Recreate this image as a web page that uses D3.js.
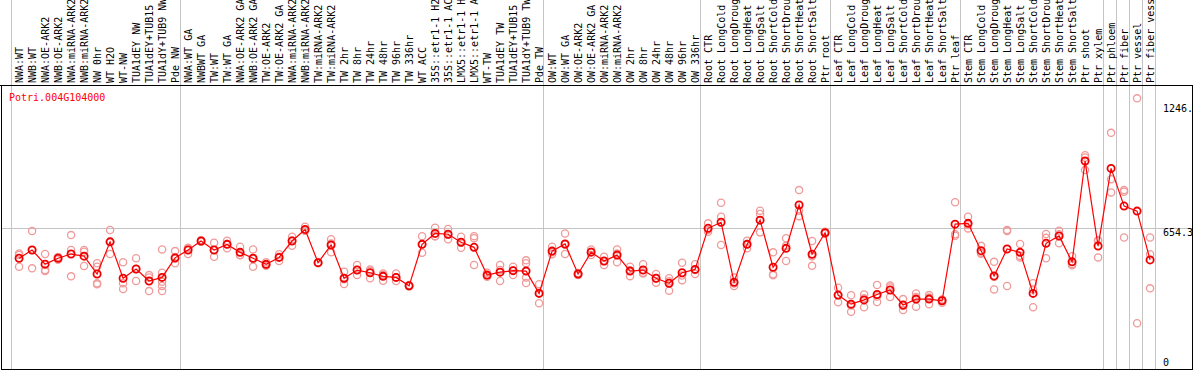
<!DOCTYPE html>
<html>
<head>
<meta charset="utf-8">
<script src="https://cdn.jsdelivr.net/npm/d3@7"></script>
<style>
html, body { margin: 0; padding: 0; background: #fff; }
svg { display: block; }
text { font-family: "DejaVu Sans Mono", "Liberation Mono", monospace; font-size: 10px; }
</style>
</head>
<body>
<svg id="chart" width="1194" height="370"></svg>
<script>
const gene = "Potri.004G104000";

const labels = [
  "NWA:WT","NWB:WT","NWA:OE-ARK2","NWB:OE-ARK2","NWA:miRNA-ARK2","NWB:miRNA-ARK2","NW 0hr","WT H2O","WT-NW","TUA1dEY NW","TUA1dEY+TUB15 NW","TUA1dY+TUB9 NW","Pde NW",
  "NWA:WT GA","NWBWT GA","TW:WT","TW:WT GA","NWA:OE-ARK2 GA","NWB:OE-ARK2 GA","TW:OE-ARK2","TW:OE-ARK2 GA","NWA:miRNA-ARK2 GA","NWB:miRNA-ARK2 GA","TW:miRNA-ARK2","TW:miRNA-ARK2 GA","TW 2hr","TW 8hr","TW 24hr","TW 48hr","TW 96hr","TW 336hr","WT ACC","35S::etr1-1 H2O","35S::etr1-1 ACC","LMX5::etr1-1 H2O","LMX5::etr1-1 ACC","WT-TW","TUA1dEY TW","TUA1dEY+TUB15 TW","TUA1dY+TUB9 TW","Pde TW",
  "OW:WT","OW:WT GA","OW:OE-ARK2","OW:OE-ARK2 GA","OW:miRNA-ARK2","OW:miRNA-ARK2 GA","OW 2hr","OW 8hr","OW 24hr","OW 48hr","OW 96hr","OW 336hr",
  "Root CTR","Root LongCold","Root LongDrought","Root LongHeat","Root LongSalt","Root ShortCold","Root ShortDrought","Root ShortHeat","Root ShortSalt","Ptr root",
  "Leaf CTR","Leaf LongCold","Leaf LongDrought","Leaf LongHeat","Leaf LongSalt","Leaf ShortCold","Leaf ShortDrought","Leaf ShortHeat","Leaf ShortSalt","Ptr leaf",
  "Stem CTR","Stem LongCold","Stem LongDrought","Stem LongHeat","Stem LongSalt","Stem ShortCold","Stem ShortDrought","Stem ShortHeat","Stem ShortSalt","Ptr shoot","Ptr xylem",
  "Ptr phloem","Ptr fiber","Ptr vessel","Ptr fiber vessel"
];

const groupSizes = [13, 28, 12, 10, 10, 11, 1, 1, 1, 1];

const means = [
  512, 551, 484, 512, 532, 522, 437, 590, 417, 461,
  404, 421, 514, 551, 594, 551, 578, 540, 512, 483,
  516, 594, 649, 491, 575, 417, 456, 443, 426, 421,
  381, 578, 630, 626, 588, 564, 432, 446, 453, 451,
  345, 546, 580, 437, 541, 499, 527, 451, 456, 417,
  393, 443, 459, 654.3, 683, 398, 578, 693, 469, 559,
  765, 531, 633, 337, 294, 314, 340, 361, 290, 318,
  318, 310, 674, 678, 548, 428, 556, 540, 345, 583,
  618, 495, 974, 570, 939, 760, 736, 504
];

const replicates = [
  [535,472,528],[641,464,551],[532,456,451],[505,512,518],[622,551,426],
  [551,543,475],[488,472,393,388],[646,590,532],[493,393,366],[512,404,461],
  [432,421,356],[554,443,400,380,356],[546,488,510],[559,532,562],[590,594,598],
  [586,519,551],[595,559,580],[567,527,526],[554,472,509],[493,476,480],
  [519,499,531],[614,571,596],[662,643,643],[488,492,492],[602,540,582],
  [448,390,412],[480,432,456],[459,417,453],[440,405,433],[440,404,420],
  [378,381,385],[617,538,578],[657,617,617],[651,602,624],[614,562,587],
  [617,607,480],[443,424,430],[480,404,456],[472,432,454],[502,488,394,420],
  [389,298,348],[567,531,541],[630,532,576],[432,437,442],[554,527,543],
  [519,480,498],[554,493,535],[472,427,454],[484,440,443],[437,396,417],
  [417,358,403],[491,408,430],[484,437,456],[678,638,647],[776,709,575],
  [421,380,392],[595,559,580],[738,722,635],[540,431,436],[607,499,571],
  [836,738,712],[594,476,522],[628,633,638],[372,303,337],[336,258,287],
  [340,279,322],[385,304,330],[382,328,373],[318,266,285],[345,282,328],
  [337,293,325],[314,301,316],[778,619,626],[709,654,670],[571,538,534],
  [495,364,423],[641,380,646],[580,516,524],[393,279,364],[627,512,609],
  [643,626,583],[522,484,479],[1002,991,931],[598,516,596],[1108,888,825],
  [836,828,611],[1272,203],[611,531,369]
];

const yTickValues = [1246, 654.3, 0];
const yTickLabels = ["1246.", "654.3", "0"];

const W = 1194, H = 370;
const plotTop = 85, plotBottom = 369, plotLeft = 1, plotRight = 1192;

const svg = d3.select("#chart");

const n = labels.length;
const x = d3.scaleLinear().domain([0, n]).range([10.5, 1154.5]);
const y = d3.scaleLinear().domain([0, 1246]).range([366, 103.8]);
const px = i => x(i + 0.66);

// clip for plot area
svg.append("defs").append("clipPath").attr("id", "plotclip")
  .append("rect").attr("x", plotLeft).attr("y", plotTop).attr("width", plotRight - plotLeft).attr("height", plotBottom - plotTop);

// group separators
const bounds = [0];
groupSizes.forEach(s => bounds.push(bounds[bounds.length - 1] + s));
svg.append("g").selectAll("line").data(bounds).join("line")
  .attr("x1", d => Math.round(x(d)) + 0.5).attr("x2", d => Math.round(x(d)) + 0.5)
  .attr("y1", 0).attr("y2", plotBottom)
  .attr("stroke", "#c4c4c4").attr("stroke-width", 1);

// horizontal reference line
svg.append("line")
  .attr("x1", plotLeft).attr("x2", plotRight)
  .attr("y1", Math.round(y(654.3)) + 0.5).attr("y2", Math.round(y(654.3)) + 0.5)
  .attr("stroke", "#c4c4c4").attr("stroke-width", 1);

// sample labels (rotated)
svg.append("g").selectAll("text").data(labels).join("text")
  .attr("transform", (d, i) => `translate(${x(i) + 12.3},83) rotate(-90)`)
  .attr("fill", "#000")
  .text(d => d);

// frame
const frame = svg.append("g").attr("stroke", "#000").attr("stroke-width", 1).attr("fill", "none");
frame.append("line").attr("x1", 0).attr("x2", plotRight + 1).attr("y1", plotTop + 0.5).attr("y2", plotTop + 0.5);
frame.append("line").attr("x1", plotLeft + 0.5).attr("x2", plotLeft + 0.5).attr("y1", plotTop).attr("y2", plotBottom + 1);
frame.append("line").attr("x1", plotRight + 0.5).attr("x2", plotRight + 0.5).attr("y1", plotTop).attr("y2", plotBottom + 1);
frame.append("line").attr("x1", plotLeft).attr("x2", plotRight + 1).attr("y1", plotBottom + 0.5).attr("y2", plotBottom + 0.5);

// gene name
svg.append("text").attr("x", 9).attr("y", 100.5).attr("fill", "#ff0000").text(gene);

// y labels
svg.append("g").attr("clip-path", "url(#plotclip)").selectAll("text").data(yTickValues).join("text")
  .attr("x", 1163)
  .attr("y", d => d === 0 ? y(d) - 0.5 : y(d) + 7.8)
  .attr("fill", "#000")
  .text((d, i) => yTickLabels[i]);

const plot = svg.append("g").attr("clip-path", "url(#plotclip)");

// replicate points
const repPts = [];
replicates.forEach((arr, i) => arr.forEach(v => repPts.push({ i, v })));
plot.append("g").selectAll("circle").data(repPts).join("circle")
  .attr("cx", d => px(d.i)).attr("cy", d => y(d.v)).attr("r", 3.6)
  .attr("fill", "none").attr("stroke", "#f09a9a").attr("stroke-width", 1.3);

// mean line
const line = d3.line().x((d, i) => px(i)).y(d => y(d));
plot.append("path").datum(means).attr("d", line)
  .attr("fill", "none").attr("stroke", "#ff0000").attr("stroke-width", 1.2);

// mean points
plot.append("g").selectAll("circle").data(means).join("circle")
  .attr("cx", (d, i) => px(i)).attr("cy", d => y(d)).attr("r", 3.6)
  .attr("fill", "none").attr("stroke", "#ee0000").attr("stroke-width", 1.8);
</script>
</body>
</html>
